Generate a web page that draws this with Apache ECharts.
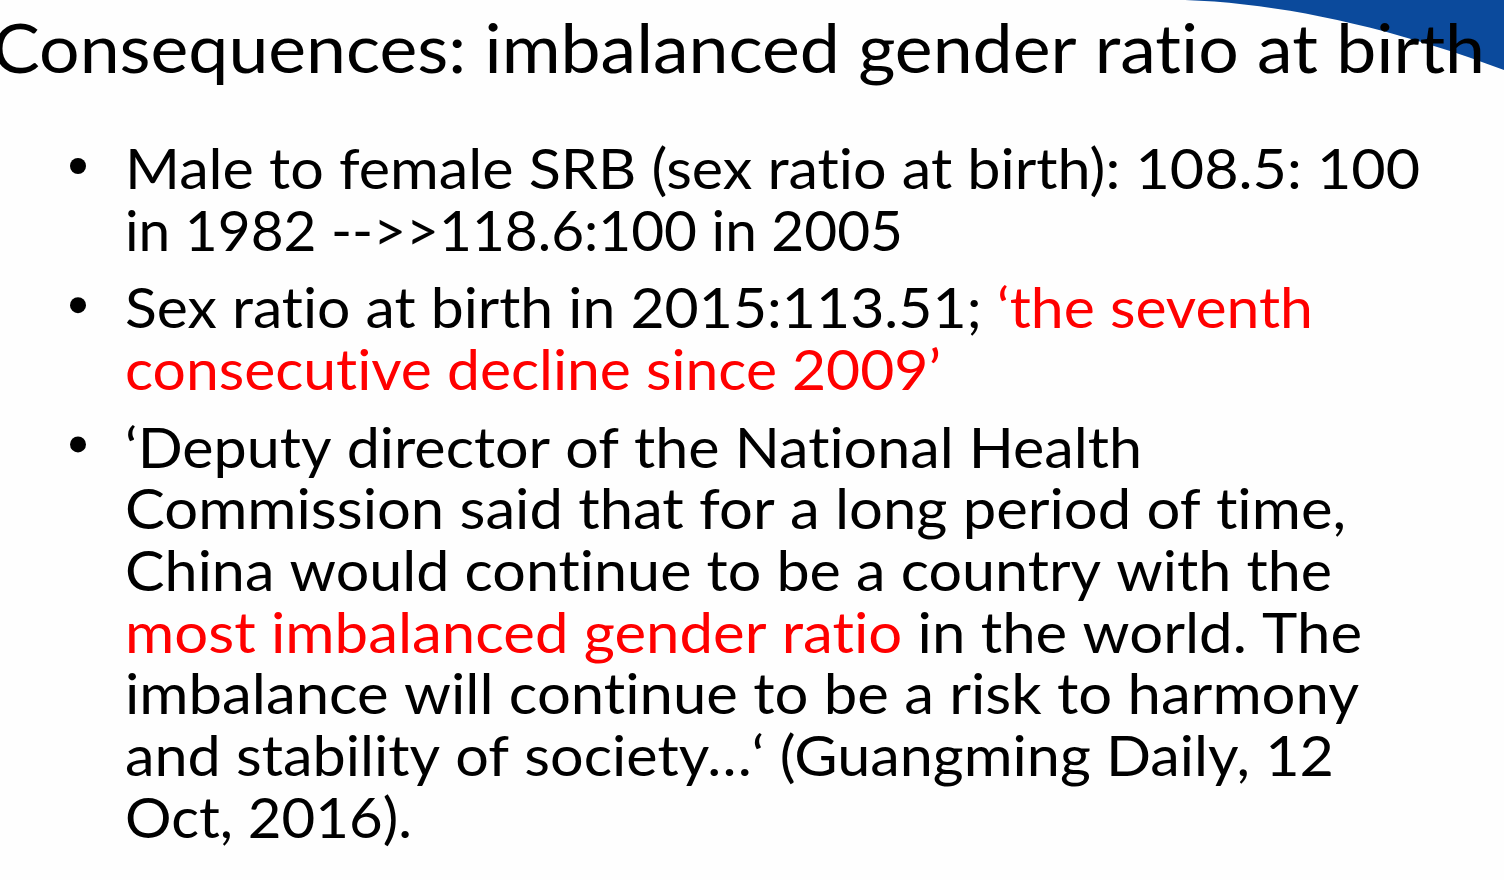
<!DOCTYPE html>
<html>
<head>
<meta charset="utf-8">
<script src="https://cdn.jsdelivr.net/npm/echarts@6/dist/echarts.min.js"></script>
<style>
html,body{margin:0;padding:0;background:#fefefe;}
#main{width:1504px;height:880px;}
</style>
</head>
<body>
<div id="main"></div>
<script>
// slide text, {r|...} marks the red parts
var titleText = 'Consequences: imbalanced gender ratio at birth';
var bullet1 = [
    'Male to female SRB (sex ratio at birth): 108.5: 100',
    'in 1982 -->>118.6:100 in 2005'
];
var bullet2 = [
    'Sex ratio at birth in 2015:113.51; {r|‘the seventh}',
    '{r|consecutive decline since 2009’}'
];
var bullet3 = [
    '‘Deputy director of the National Health',
    'Commission said that for a long period of time,',
    'China would continue to be a country with the',
    '{r|most imbalanced gender ratio} in the world. The',
    'imbalance will continue to be a risk to harmony',
    'and stability of society…‘ (Guangming Daily, 12',
    'Oct, 2016).'
];
var bullets = [bullet1, bullet2, bullet3];
// where each body line ends on the slide (px), used to squeeze the font
var lineRight = [1418, 901, 1311, 939, 1140, 1344, 1330, 1360, 1357, 1332, 410];

var FONT = 'Lato';
var bodySize = 57, titleSize = 67;

// break the Lato "ti" ligature, original font has none
function noLig(s){ return s.replace(/ti/g, 't\u200Ci'); }

function measure(txt, size){
    var c = document.createElement('canvas').getContext('2d');
    c.font = size + 'px ' + FONT;
    return c.measureText(noLig(txt).replace(/\{r\||\}/g,'')).width;
}
var titleScale = 1493 / measure(titleText, titleSize);

var myChart = echarts.init(document.getElementById('main'));
var elements = [];

/*blue swoosh top right (quadratic curve)*/
var swoosh = [];
for(var t=0;t<=1.0001;t+=0.05){
    var u = 1-t;
    swoosh.push([u*u*1185 + 2*u*t*1330 + t*t*1504, 2*u*t*5 + t*t*70]);
}
swoosh.push([1504,0]);
elements.push({
    type:'polygon',
    shape:{points:swoosh},
    style:{fill:'#0b4a9c'},
    z:1
});

elements.push({
    type:'text',
    x:-8, y:71 - 0.30*titleSize,
    scaleX:titleScale,
    style:{text:noLig(titleText), font:titleSize+'px '+FONT, fill:'#000', verticalAlign:'middle', align:'left'},
    z:5
});

var lineGap = 61.7, paraGap = 77.5;
var base = 188, k = 0;
for(var i=0;i<bullets.length;i++){
    elements.push({
        type:'circle',
        shape:{cx:78, cy:base-22, r:8},
        style:{fill:'#000'},
        z:5
    });
    for(var j=0;j<bullets[i].length;j++){
        var b = base + j*lineGap;
        var sc = (lineRight[k] - 125 + 2) / measure(bullets[i][j], bodySize);
        k++;
        elements.push({
            type:'text',
            x:125, y:b - 0.30*bodySize,
            scaleX:sc,
            style:{
                text:noLig(bullets[i][j]),
                font:bodySize+'px '+FONT,
                fill:'#000',
                verticalAlign:'middle',
                align:'left',
                lineHeight:bodySize,
                rich:{r:{fill:'#ff0000', font:bodySize+'px '+FONT, lineHeight:bodySize}}
            },
            z:5
        });
    }
    base = base + (bullets[i].length-1)*lineGap + paraGap;
}

var option = {
    backgroundColor:'#fefefe',
    animation:false,
    graphic:{elements:elements}
};
myChart.setOption(option, true);
</script>
</body>
</html>
